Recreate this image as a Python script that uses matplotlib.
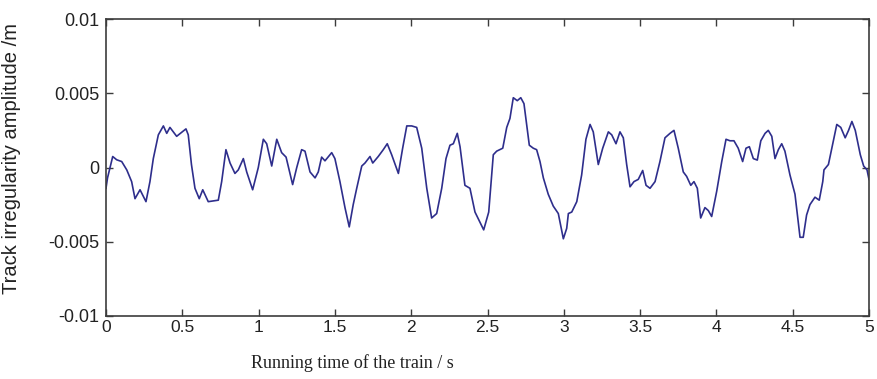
import numpy as np
import matplotlib
matplotlib.use("Agg")
import matplotlib.pyplot as plt

DPI = 100
LINE_COLOR = "#2e2e8c"
AXIS_COLOR = "#3c3c3c"

# tempo de marcha (s) e irregularidade (mm)
time_s = [
    0.0, 0.01, 0.044, 0.07, 0.103, 0.136, 0.168, 0.19, 0.223, 0.262,
    0.288, 0.31, 0.343, 0.376, 0.398, 0.419, 0.463, 0.524, 0.539, 0.56,
    0.583, 0.611, 0.634, 0.67, 0.736, 0.758, 0.786, 0.813, 0.845, 0.867,
    0.9, 0.922, 0.961, 0.998, 1.031, 1.053, 1.086, 1.119, 1.151, 1.18,
    1.223, 1.25, 1.282, 1.304, 1.337, 1.37, 1.391, 1.413, 1.435, 1.479,
    1.5, 1.533, 1.566, 1.594, 1.62, 1.643, 1.676, 1.697, 1.73, 1.748,
    1.784, 1.817, 1.843, 1.872, 1.916, 1.944, 1.971, 2.003, 2.036, 2.069,
    2.102, 2.134, 2.167, 2.2, 2.228, 2.254, 2.276, 2.302, 2.32, 2.352,
    2.385, 2.418, 2.451, 2.475, 2.508, 2.538, 2.56, 2.6, 2.626, 2.647,
    2.669, 2.695, 2.718, 2.739, 2.774, 2.8, 2.822, 2.844, 2.866, 2.898,
    2.931, 2.964, 2.997, 3.019, 3.03, 3.052, 3.085, 3.117, 3.145, 3.172,
    3.193, 3.226, 3.255, 3.292, 3.314, 3.342, 3.368, 3.39, 3.412, 3.434,
    3.46, 3.488, 3.517, 3.539, 3.565, 3.598, 3.63, 3.663, 3.696, 3.722,
    3.75, 3.783, 3.805, 3.832, 3.853, 3.875, 3.897, 3.925, 3.947, 3.969,
    4.002, 4.035, 4.063, 4.089, 4.115, 4.143, 4.172, 4.194, 4.216, 4.242,
    4.268, 4.291, 4.319, 4.34, 4.363, 4.384, 4.406, 4.428, 4.449, 4.482,
    4.515, 4.548, 4.569, 4.591, 4.613, 4.646, 4.674, 4.697, 4.705, 4.734,
    4.767, 4.789, 4.815, 4.844, 4.866, 4.888, 4.91, 4.943, 4.965, 4.987,
    5.0,
]
amplitude_mm = [
    -1.4, -0.7, 0.74, 0.52, 0.4, -0.16, -0.95, -2.1, -1.5, -2.3,
    -0.95, 0.6, 2.2, 2.8, 2.3, 2.7, 2.1, 2.6, 2.2, 0.2,
    -1.4, -2.1, -1.5, -2.3, -2.2, -0.95, 1.2, 0.3, -0.4, -0.16,
    0.6, -0.3, -1.5, 0.0, 1.9, 1.6, 0.1, 1.9, 1.0, 0.7,
    -1.15, 0.0, 1.2, 1.1, -0.3, -0.7, -0.3, 0.7, 0.45, 1.0,
    0.6, -0.95, -2.7, -4.0, -2.5, -1.4, 0.1, 0.3, 0.74, 0.3,
    0.74, 1.2, 1.6, 0.86, -0.4, 1.3, 2.8, 2.8, 2.7, 1.3,
    -1.4, -3.4, -3.1, -1.4, 0.6, 1.5, 1.6, 2.3, 1.4, -1.2,
    -1.4, -3.0, -3.7, -4.2, -3.0, 0.86, 1.1, 1.3, 2.7, 3.3,
    4.7, 4.5, 4.7, 4.3, 1.5, 1.3, 1.2, 0.4, -0.7, -1.8,
    -2.6, -3.1, -4.8, -4.1, -3.1, -3.0, -2.3, -0.5, 1.9, 2.9,
    2.4, 0.2, 1.3, 2.4, 2.2, 1.6, 2.4, 2.0, 0.2, -1.3,
    -0.95, -0.8, -0.2, -1.2, -1.4, -0.95, 0.4, 2.0, 2.3, 2.5,
    1.3, -0.3, -0.6, -1.2, -0.95, -1.4, -3.4, -2.7, -2.9, -3.3,
    -1.6, 0.4, 1.9, 1.8, 1.8, 1.3, 0.4, 1.3, 1.4, 0.6,
    0.5, 1.8, 2.3, 2.5, 2.1, 0.6, 1.2, 1.6, 1.1, -0.5,
    -1.8, -4.7, -4.7, -3.2, -2.5, -2.0, -2.2, -0.95, -0.16, 0.2,
    1.8, 2.9, 2.7, 2.0, 2.5, 3.1, 2.5, 0.86, 0.1, -0.16,
    -0.8,
]
x_ticks = [0, 0.5, 1, 1.5, 2, 2.5, 3, 3.5, 4, 4.5, 5]
x_tick_labels = ["0", "0.5", "1", "1.5", "2", "2.5", "3", "3.5", "4", "4.5", "5"]
y_ticks = [-0.01, -0.005, 0, 0.005, 0.01]
y_tick_labels = ["-0.01", "-0.005", "0", "0.005", "0.01"]


def main():
    plt.rcParams["font.family"] = ["Liberation Sans", "DejaVu Sans"]

    fig = plt.figure(figsize=(8.78, 3.79), dpi=DPI)
    ax = fig.add_axes([106 / 878, 1 - 316 / 379, 763 / 878, 297 / 379])

    amplitude_m = np.array(amplitude_mm) * 1e-3
    ax.plot(time_s, amplitude_m, color=LINE_COLOR, linewidth=1.2)

    ax.set_xlim(0, 5)
    ax.set_ylim(-0.01, 0.01)
    ax.set_xticks(x_ticks)
    ax.set_xticklabels(x_tick_labels, fontsize=12.5)
    ax.set_yticks(y_ticks)
    ax.set_yticklabels(y_tick_labels, fontsize=13)

    # estilo matlab: caixa fechada e ticks para dentro
    ax.tick_params(direction="in", length=5, width=1, color=AXIS_COLOR,
                   top=True, right=True, labelcolor="#222222")
    ax.tick_params(axis="x", pad=3)
    ax.tick_params(axis="y", pad=5)
    for s in ax.spines.values():
        s.set_color(AXIS_COLOR)
        s.set_linewidth(1.2)

    fig.text(12 / 878, 1 - 158 / 379, "Track irregularity amplitude /m",
             rotation=90, ha="center", va="center", fontsize=14.5,
             color="#222222")
    fig.text(352 / 878, 1 - 363 / 379, "Running time of the train / s",
             ha="center", va="center", fontsize=13,
             family=["Liberation Serif", "DejaVu Serif"], color="#222222")

    fig.savefig("out.png", dpi=DPI)


if __name__ == "__main__":
    main()
